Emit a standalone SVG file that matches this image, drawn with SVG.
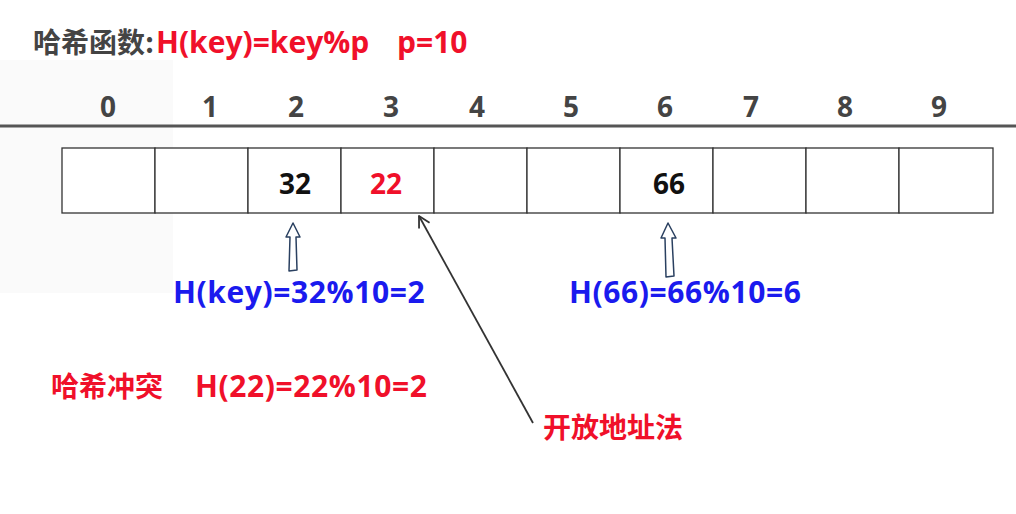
<svg xmlns="http://www.w3.org/2000/svg" width="1016" height="514" viewBox="0 0 1016 514">
<style>
text{font-family:"Open Sans","Noto Sans CJK SC",sans-serif;font-weight:bold;font-size:30px}
.cjk{font-family:"Noto Sans CJK SC",sans-serif;font-size:28px}
.idx{fill:#444;text-anchor:middle;font-size:28px}
.cell{fill:#fff;stroke:#333;stroke-width:1.3}
.val{fill:#111;text-anchor:middle;font-size:28px}
.red{fill:#f0102a}
.blue{fill:#1a1aee}
.ls{letter-spacing:0.6px}
.hollow{fill:#fff;stroke:#2a4060;stroke-width:1.5;stroke-linejoin:round}
</style>
<defs>
<marker id="ah" viewBox="0 0 14 14" refX="12" refY="7" markerWidth="14" markerHeight="14" markerUnits="userSpaceOnUse" orient="auto">
<path d="M1,1 L12,7 L1,13" fill="none" stroke="#333" stroke-width="1.8" stroke-linejoin="round"/>
</marker>
</defs>
<rect width="1016" height="514" fill="#fff"/>
<rect x="0" y="60" width="173" height="233" fill="#fafafa"/>
<g id="title">
<text class="cjk" x="33" y="53" fill="#444">哈希函数:</text>
<text class="red" x="156" y="53">H(key)=key%p</text>
<text class="red" x="397" y="53">p=10</text>
</g>
<line x1="0" y1="126" x2="1016" y2="126" stroke="#555" stroke-width="3"/>
<g id="indices">
<text class="idx" x="108" y="117">0</text>
<text class="idx" x="210" y="117">1</text>
<text class="idx" x="296" y="117">2</text>
<text class="idx" x="391" y="117">3</text>
<text class="idx" x="477" y="117">4</text>
<text class="idx" x="571" y="117">5</text>
<text class="idx" x="665" y="117">6</text>
<text class="idx" x="751" y="117">7</text>
<text class="idx" x="845" y="117">8</text>
<text class="idx" x="939" y="117">9</text>
</g>
<g id="table">
<rect class="cell" x="62" y="148" width="93" height="65"/>
<rect class="cell" x="155" y="148" width="93" height="65"/>
<rect class="cell" x="248" y="148" width="93" height="65"/>
<rect class="cell" x="341" y="148" width="93" height="65"/>
<rect class="cell" x="434" y="148" width="93" height="65"/>
<rect class="cell" x="527" y="148" width="93" height="65"/>
<rect class="cell" x="620" y="148" width="93" height="65"/>
<rect class="cell" x="713" y="148" width="93" height="65"/>
<rect class="cell" x="806" y="148" width="93" height="65"/>
<rect class="cell" x="899" y="148" width="94" height="65"/>
<text class="val" x="295" y="194">32</text>
<text class="val red" x="386" y="194">22</text>
<text class="val" x="669" y="194">66</text>
</g>
<g id="connectors">
<path class="hollow" d="M293,223 L300,237 L296,237 L297,270 L289,271 L290,237 L286,237 Z"/>
<path class="hollow" d="M668,223 L676,238 L672,238 L674,276 L666,277 L665,238 L661,238 Z"/>
<line x1="533" y1="423" x2="419" y2="216" stroke="#333" stroke-width="1.8" marker-end="url(#ah)"/>
</g>
<g id="labels">
<text class="blue ls" x="173" y="303">H(key)=32%10=2</text>
<text class="blue ls" x="569" y="303">H(66)=66%10=6</text>
<text class="red cjk" x="51" y="397">哈希冲突</text>
<text class="red ls" x="195" y="397">H(22)=22%10=2</text>
<text class="red cjk" x="543" y="438">开放地址法</text>
</g>
</svg>
